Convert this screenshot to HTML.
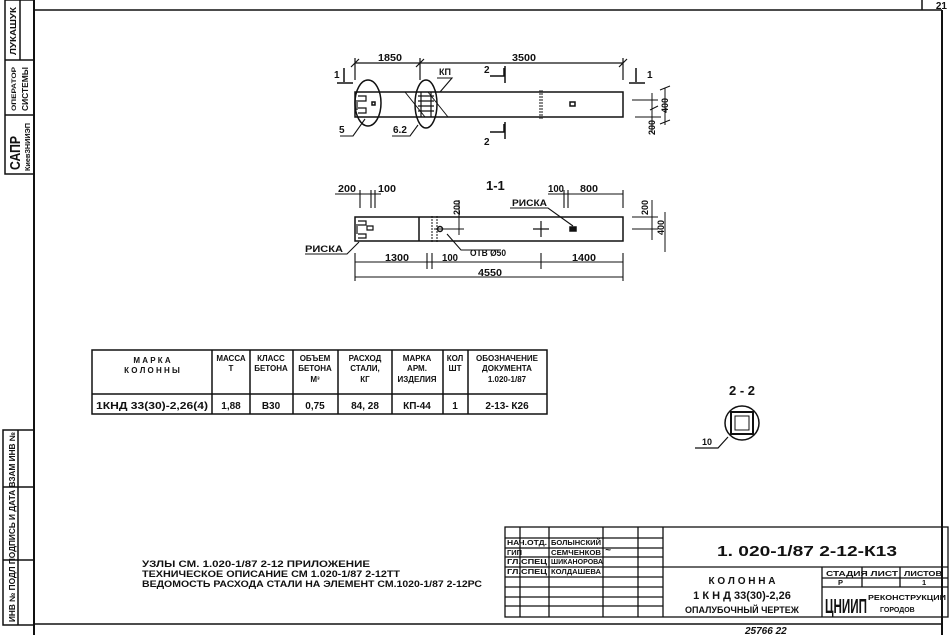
<!DOCTYPE html>
<html><head><meta charset="utf-8"><style>
html,body{margin:0;padding:0;background:#fff;}
svg{display:block;}
text{font-family:"Liberation Sans","DejaVu Sans",sans-serif;font-weight:bold;fill:#111;}
</style></head><body>
<svg width="950" height="635" viewBox="0 0 950 635" xmlns="http://www.w3.org/2000/svg">
<g stroke="#111" fill="none" stroke-width="1.5">
<!-- frame -->
<line x1="34" y1="0" x2="34" y2="635" stroke-width="2"/>
<line x1="34" y1="10" x2="942" y2="10"/>
<line x1="942" y1="10" x2="942" y2="635" stroke-width="2"/>
<line x1="922" y1="0" x2="922" y2="10"/>
<line x1="34" y1="624" x2="942" y2="624"/>
<!-- left strip top -->
<rect x="5" y="0" width="29" height="174"/>
<line x1="5" y1="60" x2="34" y2="60"/>
<line x1="5" y1="115" x2="34" y2="115"/>
<line x1="20" y1="0" x2="20" y2="60"/>
<!-- left strip bottom -->
<rect x="3" y="430" width="31" height="195"/>
<line x1="18" y1="430" x2="18" y2="625"/>
<line x1="3" y1="487" x2="34" y2="487"/>
<line x1="3" y1="560" x2="34" y2="560"/>
</g>
<text x="947" y="9" font-size="10" text-anchor="end">21</text>
<g font-size="8">
<text transform="translate(16,55) rotate(-90)" textLength="48" lengthAdjust="spacingAndGlyphs">ЛУКАШУК</text>
<text transform="translate(16,111) rotate(-90)" font-size="6" textLength="44" lengthAdjust="spacingAndGlyphs">ОПЕРАТОР</text>
<text transform="translate(28,111) rotate(-90)" textLength="44" lengthAdjust="spacingAndGlyphs">СИСТЕМЫ</text>
<text transform="translate(20,170) rotate(-90)" font-size="15" font-weight="normal" textLength="34" lengthAdjust="spacingAndGlyphs">САПР</text>
<text transform="translate(30,171) rotate(-90)" font-size="7" textLength="48" lengthAdjust="spacingAndGlyphs">КиевЗНИИЭП</text>
<text transform="translate(15,622) rotate(-90)" textLength="190" lengthAdjust="spacingAndGlyphs">ИНВ № ПОДЛ ПОДПИСЬ И ДАТА ВЗАМ ИНВ №</text>
</g>

<!-- top view -->
<g stroke="#111" fill="none" stroke-width="1.5">
<rect x="355" y="92" width="268" height="25"/>
<ellipse cx="368" cy="103" rx="13" ry="23"/>
<ellipse cx="426" cy="104" rx="11" ry="24"/>
<path d="M358 96h8v5h-8 M358 108h8v5h-8 M357 100v10" stroke-width="1.2"/>
<rect x="372" y="102" width="3" height="3"/>
<path d="M405 92l20 25 M428 92l20 25" stroke-width="1"/>
<path d="M418 96h16 M418 101h16 M418 106h16 M418 111h16 M421 92v25 M431 92v25" stroke-width="1.2"/>
<path d="M540 90v30 M542 90v30" stroke-width="1" stroke-dasharray="2 1"/>
<rect x="570" y="102" width="5" height="4"/>
<path d="M355 63h268 M355 58v22 M420 58v22 M623 58v22 M351 67l8 -8 M416 67l8-8 M619 67l8-8" stroke-width="1.2"/>
<path d="M337 83h16 M344 68v14 M629 83h16 M636 68v14"/>
<path d="M490 76h14v-8 M505 66v17 M490 132h14v-8 M505 122v17"/>
<path d="M340 136h13l12-17 M392 136h18l8-11 M437 78h15l-12 14" stroke-width="1.1"/>
<path d="M632 100h26 M635 117h26 M652 93v40 M665 88v37 M660 90l10-4 M660 124l10-4 M650 110l8-4" stroke-width="1"/>
</g>
<g font-size="10">
<text x="378" y="61" textLength="24" lengthAdjust="spacingAndGlyphs">1850</text>
<text x="512" y="61" textLength="24" lengthAdjust="spacingAndGlyphs">3500</text>
<text x="334" y="78">1</text><text x="647" y="78">1</text>
<text x="484" y="73">2</text><text x="484" y="145">2</text>
<text x="339" y="133">5</text><text x="393" y="133">6.2</text>
<text x="439" y="75" font-size="9">КП</text>
<text transform="translate(668,113) rotate(-90)" font-size="9">400</text>
<text transform="translate(655,135) rotate(-90)" font-size="9">200</text>
</g>

<!-- section 1-1 -->
<g stroke="#111" fill="none" stroke-width="1.5">
<rect x="355" y="217" width="268" height="24"/>
<line x1="419" y1="217" x2="419" y2="241"/>
<path d="M432 216v26 M437 216v26" stroke-width="1" stroke-dasharray="2 1"/>
<path d="M358 221h8v4h-8 M358 234h8v4h-8 M357 224v10 M367 226h6v4h-6z" stroke-width="1.2"/>
<circle cx="440" cy="229" r="2.5"/>
<path d="M434 229h30 M459 200v35" stroke-width="1"/>
<path d="M533 229h16 M541 221v16" stroke-width="1.2"/>
<rect x="570" y="227" width="6" height="4" fill="#111"/>
<path d="M335 194h26 M361 194h20 M360 190v18 M371 190v18 M375 190v18 M548 194h75 M564 190v18 M568 190v18 M623 190v18" stroke-width="1.1"/>
<path d="M355 262h268 M355 253v28 M427 253v16 M432 253v16 M541 253v16 M623 253v28 M355 277h268" stroke-width="1.1"/>
<path d="M305 254h42l12-12 M510 208h38l25 18 M447 234l14 16h40" stroke-width="1.1"/>
<path d="M632 217h26 M632 229h26 M652 200v40 M665 212v40" stroke-width="1"/>
</g>
<g font-size="10">
<text x="486" y="190" font-size="13">1-1</text>
<text x="338" y="192" textLength="18" lengthAdjust="spacingAndGlyphs">200</text>
<text x="378" y="192" textLength="18" lengthAdjust="spacingAndGlyphs">100</text>
<text x="548" y="192" textLength="16" lengthAdjust="spacingAndGlyphs">100</text>
<text x="580" y="192" textLength="18" lengthAdjust="spacingAndGlyphs">800</text>
<text x="512" y="206" font-size="9" textLength="35" lengthAdjust="spacingAndGlyphs">РИСКА</text>
<text x="305" y="252" font-size="9" textLength="38" lengthAdjust="spacingAndGlyphs">РИСКА</text>
<text x="470" y="256" font-size="9" textLength="36" lengthAdjust="spacingAndGlyphs">ОТВ Ø50</text>
<text x="385" y="261" textLength="24" lengthAdjust="spacingAndGlyphs">1300</text>
<text x="442" y="261" textLength="16" lengthAdjust="spacingAndGlyphs">100</text>
<text x="572" y="261" textLength="24" lengthAdjust="spacingAndGlyphs">1400</text>
<text x="478" y="276" textLength="24" lengthAdjust="spacingAndGlyphs">4550</text>
<text transform="translate(460,215) rotate(-90)" font-size="9">200</text>
<text transform="translate(648,215) rotate(-90)" font-size="9">200</text>
<text transform="translate(664,235) rotate(-90)" font-size="9">400</text>
</g>

<!-- section 2-2 -->
<g stroke="#111" fill="none" stroke-width="1.5">
<circle cx="742" cy="423" r="17"/>
<rect x="731" y="412" width="22" height="22" stroke-width="2"/>
<rect x="735" y="416" width="14" height="14" stroke-width="1"/>
<path d="M695 448h23l10-11" stroke-width="1.2"/>
</g>
<text x="729" y="395" font-size="13">2 - 2</text>
<text x="702" y="445" font-size="9">10</text>

<!-- table -->
<g stroke="#111" fill="none" stroke-width="1.5">
<rect x="92" y="350" width="455" height="64"/>
<line x1="92" y1="394" x2="547" y2="394"/>
<path d="M212 350v64 M250 350v64 M293 350v64 M338 350v64 M392 350v64 M443 350v64 M468 350v64"/>
</g>
<g font-size="8" text-anchor="middle">
<text x="152" y="363">М А Р К А</text><text x="152" y="373">К О Л О Н Н Ы</text>
<text x="231" y="361">МАССА</text><text x="231" y="371">Т</text>
<text x="271" y="361">КЛАСС</text><text x="271" y="371">БЕТОНА</text>
<text x="315" y="361">ОБЪЕМ</text><text x="315" y="371">БЕТОНА</text><text x="315" y="382">М³</text>
<text x="365" y="361">РАСХОД</text><text x="365" y="371">СТАЛИ,</text><text x="365" y="382">КГ</text>
<text x="417" y="361">МАРКА</text><text x="417" y="371">АРМ.</text><text x="417" y="382">ИЗДЕЛИЯ</text>
<text x="455" y="361">КОЛ</text><text x="455" y="371">ШТ</text>
<text x="507" y="361">ОБОЗНАЧЕНИЕ</text><text x="507" y="371">ДОКУМЕНТА</text><text x="507" y="382">1.020-1/87</text>
<g font-size="10" font-weight="normal">
<text x="152" y="409" textLength="112" lengthAdjust="spacingAndGlyphs">1КНД 33(30)-2,26(4)</text>
<text x="231" y="409">1,88</text><text x="271" y="409">В30</text><text x="315" y="409">0,75</text>
<text x="365" y="409">84, 28</text><text x="417" y="409">КП-44</text><text x="455" y="409">1</text>
<text x="507" y="409">2-13- К26</text>
</g>
</g>

<!-- notes -->
<g font-size="9">
<text x="142" y="567" textLength="228" lengthAdjust="spacingAndGlyphs">УЗЛЫ СМ. 1.020-1/87  2-12  ПРИЛОЖЕНИЕ</text>
<text x="142" y="577" textLength="258" lengthAdjust="spacingAndGlyphs">ТЕХНИЧЕСКОЕ ОПИСАНИЕ СМ 1.020-1/87  2-12ТТ</text>
<text x="142" y="587" textLength="340" lengthAdjust="spacingAndGlyphs">ВЕДОМОСТЬ РАСХОДА СТАЛИ НА ЭЛЕМЕНТ СМ.1020-1/87  2-12РС</text>
</g>

<!-- title block -->
<g stroke="#111" fill="none" stroke-width="1.3">
<rect x="505" y="527" width="443" height="90"/>
<path d="M505 538h158 M505 548h158 M505 557h158 M505 567h158 M505 577h158 M505 587h158 M505 597h158 M505 606h158"/>
<path d="M520 527v90 M549 527v90 M603 527v90 M638 527v90 M663 527v90"/>
<path d="M663 567h285 M822 567v50 M822 578h126 M822 587h126 M862 567v20 M900 567v20"/>
</g>
<g font-size="7.5">
<text x="507" y="545" textLength="40" lengthAdjust="spacingAndGlyphs">НАЧ.ОТД.</text>
<text x="551" y="545" textLength="50" lengthAdjust="spacingAndGlyphs">БОЛЫНСКИЙ</text>
<text x="507" y="555">ГИП</text>
<text x="551" y="555" textLength="50" lengthAdjust="spacingAndGlyphs">СЕМЧЕНКОВ</text>
<text x="507" y="564" textLength="40" lengthAdjust="spacingAndGlyphs">ГЛ.СПЕЦ</text>
<text x="551" y="564" textLength="52" lengthAdjust="spacingAndGlyphs">ШИКАНОРОВА</text>
<text x="507" y="574" textLength="40" lengthAdjust="spacingAndGlyphs">ГЛ.СПЕЦ</text>
<text x="551" y="574" textLength="50" lengthAdjust="spacingAndGlyphs">КОЛДАШЕВА</text>
<text x="605" y="553" font-style="italic" font-weight="normal" font-size="10">~</text>
<text x="826" y="576" textLength="72" lengthAdjust="spacingAndGlyphs">СТАДИЯ ЛИСТ</text>
<text x="904" y="576" textLength="38" lengthAdjust="spacingAndGlyphs">ЛИСТОВ</text>
<text x="838" y="585">Р</text><text x="922" y="585">1</text>
</g>
<g font-weight="normal">
<text x="717" y="556" font-size="15" textLength="180" lengthAdjust="spacingAndGlyphs">1. 020-1/87  2-12-К13</text>
<text x="742" y="584" font-size="10" text-anchor="middle">К О Л О Н Н А</text>
<text x="742" y="599" font-size="11" text-anchor="middle">1 К Н Д  33(30)-2,26</text>
<text x="742" y="613" font-size="9" text-anchor="middle">ОПАЛУБОЧНЫЙ ЧЕРТЕЖ</text>
<text x="825" y="613" font-size="20" textLength="42" lengthAdjust="spacingAndGlyphs">ЦНИИП</text>
<text x="868" y="600" font-size="7" font-weight="bold" textLength="78" lengthAdjust="spacingAndGlyphs">РЕКОНСТРУКЦИИ</text>
<text x="880" y="612" font-size="7" font-weight="bold">ГОРОДОВ</text>
<text x="745" y="634" font-size="10" font-style="italic">25766    22</text>
</g>
</svg>
</body></html>
